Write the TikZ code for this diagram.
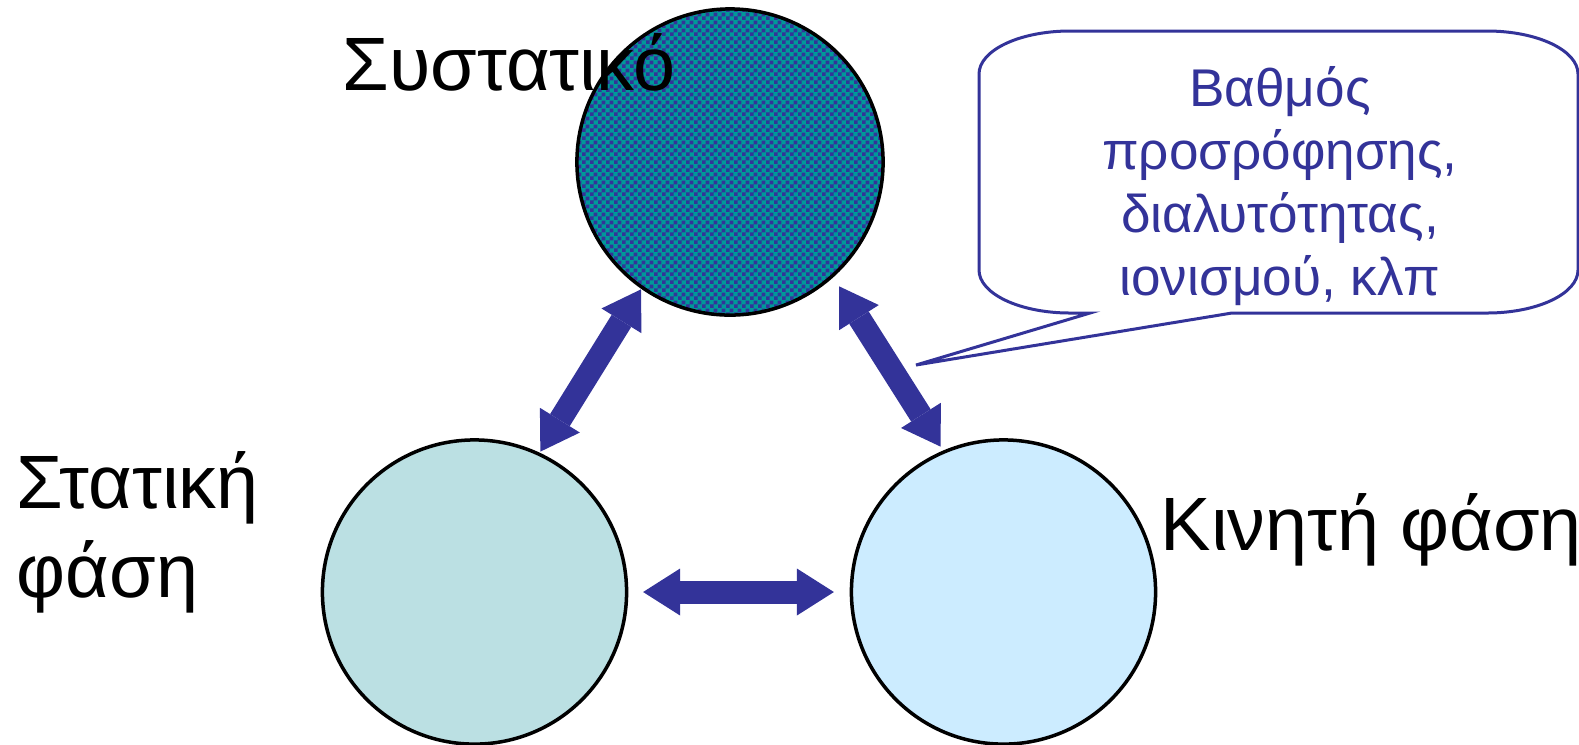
\documentclass[tikz,border=0pt]{standalone}
\usepackage{fontspec}
\setmainfont{Liberation Sans}
\usetikzlibrary{arrows.meta,patterns}
\definecolor{cblue}{HTML}{333399}
\definecolor{cteal}{HTML}{009999}
\definecolor{cstat}{HTML}{BBE0E3}
\definecolor{cmob}{HTML}{CCECFF}
\pgfdeclarepatternformonly{finechecker}{\pgfpointorigin}{\pgfqpoint{2.3pt}{2.3pt}}{\pgfqpoint{2.3pt}{2.3pt}}{%
  \pgfpathrectangle{\pgfpointorigin}{\pgfqpoint{1.15pt}{1.15pt}}%
  \pgfpathrectangle{\pgfqpoint{1.15pt}{1.15pt}}{\pgfqpoint{1.15pt}{1.15pt}}%
  \pgfusepath{fill}}
\tikzset{
  phase/.style={circle, draw=black, line width=0.035cm, inner sep=0pt, outer sep=0pt, minimum size=3.04cm},
  bigarrow/.style={draw=cblue, line width=0.23cm,
    {Triangle[width=0.47cm,length=0.37cm,line width=0pt]}-{Triangle[width=0.47cm,length=0.37cm,line width=0pt]}},
  lbl/.style={font=\fontsize{21.5}{25.3}\selectfont, inner sep=0pt, text=black},
  ctext/.style={font=\fontsize{15.1}{17.9}\selectfont, inner sep=0pt, text=cblue},
  callout/.style={draw=cblue, line width=0.03cm, fill=white, line join=miter}
}
\begin{document}
\begin{tikzpicture}[x=0.01cm,y=-0.01cm]
\useasboundingbox (0,0) rectangle (1579,744);
% callout
\draw[callout] (979,74) arc[start angle=180, end angle=270, x radius=91, y radius=43]
  -- (1487,31) arc[start angle=270, end angle=360, x radius=91, y radius=43]
  -- (1578,270) arc[start angle=0, end angle=90, x radius=91, y radius=43]
  -- (1232,313) -- (916,365) -- (1090,313) -- (1070,313)
  arc[start angle=90, end angle=180, x radius=91, y radius=43] -- cycle;
\node[ctext, align=center, anchor=base] (ctxt) at (1280,295) {Βαθμός\\προσρόφησης,\\διαλυτότητας,\\ιονισμού, κλπ};
% circles
\node[phase, fill=cstat] (stat) at (474.5,592) {};
\node[phase, fill=cmob] (mob) at (1003.5,592) {};
\node[phase, minimum size=3.06cm, preaction={fill=cteal}, pattern=finechecker, pattern color=cblue] (comp) at (730,162) {};
% labels
\node[lbl, anchor=base west] (complbl) at (342,90) {Συστατικό};
\node[lbl, align=left, anchor=base west] (statlbl) at (16,597) {Στατική\\φάση};
\node[lbl, anchor=base west] (moblbl) at (1160,550) {Κινητή φάση};
% arrows
\draw[bigarrow, shorten <=0.023cm, shorten >=0.03cm] (comp.235) -- (stat.65);
\draw[bigarrow, shorten <=0.125cm, shorten >=0.063cm] (comp.312) -- (mob.113);
\draw[bigarrow, shorten <=0.165cm, shorten >=0.175cm] (stat.0) -- (mob.180);
\end{tikzpicture}
\end{document}
